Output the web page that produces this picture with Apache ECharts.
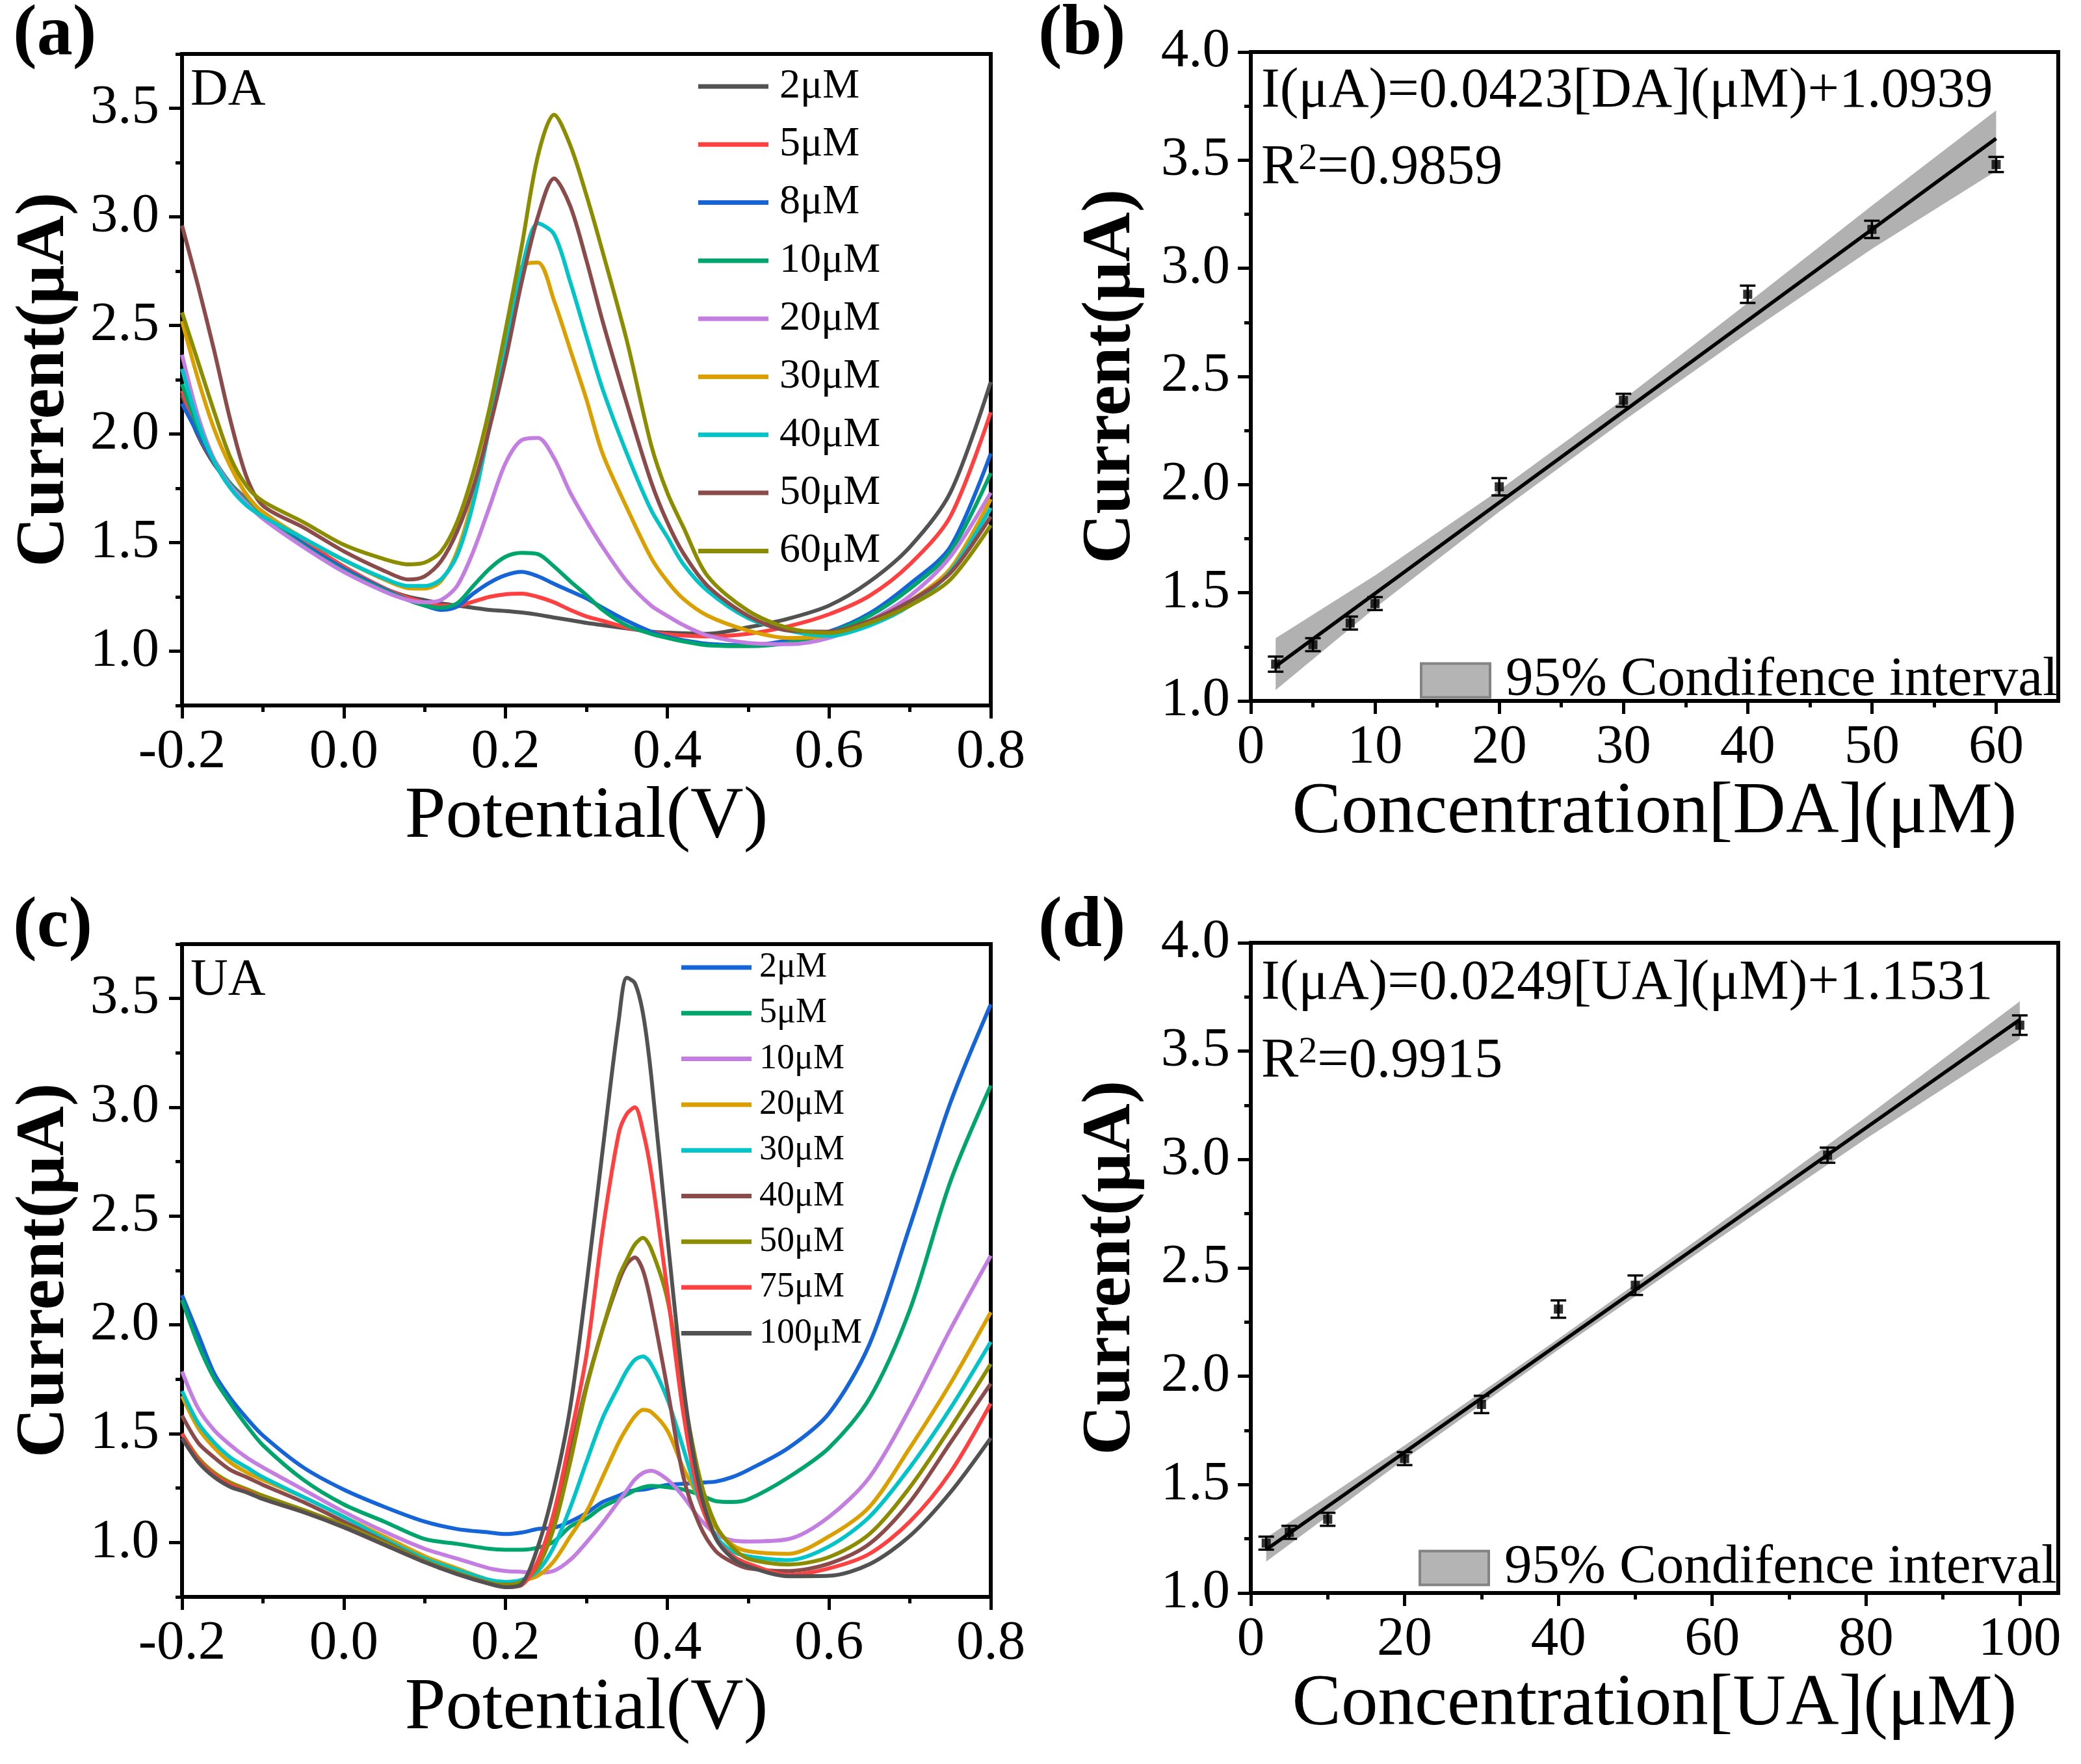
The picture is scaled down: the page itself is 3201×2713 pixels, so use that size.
<!DOCTYPE html>
<html lang="en">
<head>
<meta charset="UTF-8">
<title>DA / UA DPV calibration</title>
<script src="https://cdn.jsdelivr.net/npm/echarts@6.0.0/dist/echarts.min.js"></script>
<style>
  html, body { margin: 0; padding: 0; background: #fff; }
  #main { width: 3201px; height: 2713px; }
</style>
</head>
<body>
<div id="main"></div>
<script>
var FONT = '"Liberation Serif", "Times New Roman", serif';

// ---- (a) DA curves ----
var potA = [-0.2, -0.18, -0.16, -0.14, -0.12, -0.1, -0.05, 0, 0.05, 0.08, 0.1, 0.12, 0.14, 0.16, 0.18, 0.2, 0.22, 0.24, 0.26, 0.28, 0.3, 0.32, 0.35, 0.38, 0.4, 0.42, 0.45, 0.5, 0.55, 0.6, 0.65, 0.7, 0.75, 0.8];
var namesA = ['2μM', '5μM', '8μM', '10μM', '20μM', '30μM', '40μM', '50μM', '60μM'];
var colorsA = ['#525252', '#ff4040', '#1565d8', '#00a56c', '#c47de0', '#dba000', '#00c4c8', '#8c4b4b', '#8c8c00'];
var da2  = [2.18, 1.99, 1.86, 1.77, 1.70, 1.64, 1.51, 1.39, 1.29, 1.25, 1.235, 1.22, 1.21, 1.20, 1.19, 1.185, 1.178, 1.168, 1.155, 1.143, 1.13, 1.12, 1.105, 1.09, 1.085, 1.082, 1.08, 1.11, 1.15, 1.21, 1.32, 1.48, 1.73, 2.24];
var da5  = [2.20, 2.00, 1.87, 1.77, 1.70, 1.64, 1.51, 1.39, 1.29, 1.245, 1.225, 1.21, 1.21, 1.228, 1.25, 1.262, 1.265, 1.25, 1.225, 1.19, 1.16, 1.14, 1.108, 1.088, 1.078, 1.072, 1.068, 1.08, 1.115, 1.17, 1.255, 1.40, 1.62, 2.10];
var da8  = [2.14, 2.00, 1.87, 1.77, 1.69, 1.63, 1.495, 1.38, 1.285, 1.235, 1.21, 1.19, 1.205, 1.265, 1.315, 1.35, 1.365, 1.345, 1.31, 1.277, 1.243, 1.20, 1.14, 1.09, 1.066, 1.05, 1.034, 1.027, 1.05, 1.09, 1.174, 1.31, 1.48, 1.91];
var da10 = [2.23, 2.03, 1.88, 1.77, 1.69, 1.62, 1.485, 1.37, 1.28, 1.235, 1.21, 1.20, 1.22, 1.30, 1.379, 1.435, 1.453, 1.447, 1.39, 1.322, 1.258, 1.19, 1.118, 1.08, 1.061, 1.045, 1.027, 1.023, 1.038, 1.084, 1.163, 1.288, 1.458, 1.82];
var da20 = [2.365, 2.08, 1.88, 1.76, 1.68, 1.61, 1.48, 1.365, 1.275, 1.235, 1.225, 1.235, 1.30, 1.458, 1.662, 1.866, 1.972, 1.982, 1.889, 1.73, 1.60, 1.48, 1.322, 1.21, 1.163, 1.12, 1.072, 1.038, 1.032, 1.061, 1.14, 1.254, 1.435, 1.73];
var da30 = [2.52, 2.25, 2.02, 1.85, 1.72, 1.64, 1.52, 1.42, 1.33, 1.29, 1.288, 1.322, 1.458, 1.707, 2.047, 2.433, 2.77, 2.79, 2.614, 2.388, 2.16, 1.91, 1.66, 1.43, 1.322, 1.24, 1.163, 1.095, 1.061, 1.072, 1.13, 1.23, 1.38, 1.70];
var da40 = [2.30, 2.05, 1.87, 1.75, 1.67, 1.62, 1.52, 1.42, 1.335, 1.30, 1.30, 1.33, 1.44, 1.68, 2.03, 2.42, 2.76, 2.97, 2.92, 2.70, 2.45, 2.207, 1.91, 1.65, 1.526, 1.40, 1.277, 1.152, 1.095, 1.07, 1.118, 1.21, 1.367, 1.66];
var da50 = [2.96, 2.68, 2.38, 2.06, 1.80, 1.67, 1.57, 1.46, 1.37, 1.33, 1.345, 1.413, 1.55, 1.753, 2.025, 2.34, 2.70, 3.00, 3.177, 3.05, 2.80, 2.52, 2.14, 1.78, 1.594, 1.45, 1.30, 1.163, 1.095, 1.09, 1.14, 1.23, 1.36, 1.62];
var da60 = [2.56, 2.33, 2.10, 1.89, 1.76, 1.69, 1.594, 1.49, 1.424, 1.40, 1.408, 1.458, 1.594, 1.82, 2.115, 2.478, 2.864, 3.28, 3.47, 3.33, 3.10, 2.84, 2.43, 1.95, 1.73, 1.57, 1.345, 1.186, 1.106, 1.084, 1.13, 1.21, 1.33, 1.58];
var curvesA = [da2, da5, da8, da10, da20, da30, da40, da50, da60];

// ---- (c) UA curves ----
var potC = [-0.2, -0.18, -0.16, -0.14, -0.12, -0.1, -0.05, 0, 0.05, 0.1, 0.14, 0.18, 0.2, 0.22, 0.24, 0.26, 0.28, 0.3, 0.32, 0.34, 0.35, 0.36, 0.37, 0.38, 0.4, 0.42, 0.44, 0.46, 0.48, 0.5, 0.55, 0.6, 0.65, 0.7, 0.75, 0.8];
var namesC = ['2μM', '5μM', '10μM', '20μM', '30μM', '40μM', '50μM', '75μM', '100μM'];
var colorsC = ['#1565d8', '#00a56c', '#c47de0', '#dba000', '#00c4c8', '#8c4b4b', '#8c8c00', '#ff4040', '#525252'];
var ua2   = [2.137, 1.956, 1.775, 1.662, 1.571, 1.492, 1.345, 1.243, 1.164, 1.096, 1.062, 1.046, 1.039, 1.046, 1.062, 1.068, 1.096, 1.135, 1.186, 1.215, 1.232, 1.24, 1.243, 1.25, 1.265, 1.27, 1.275, 1.28, 1.30, 1.333, 1.435, 1.594, 1.911, 2.454, 3.02, 3.473];
var ua5   = [2.115, 1.911, 1.752, 1.639, 1.537, 1.447, 1.288, 1.175, 1.096, 1.016, 0.994, 0.971, 0.967, 0.967, 0.976, 1.005, 1.073, 1.11, 1.164, 1.20, 1.22, 1.24, 1.254, 1.26, 1.254, 1.243, 1.22, 1.19, 1.186, 1.198, 1.30, 1.435, 1.662, 2.07, 2.658, 3.10];
var ua10  = [1.786, 1.616, 1.515, 1.447, 1.39, 1.345, 1.243, 1.141, 1.05, 0.971, 0.926, 0.881, 0.869, 0.865, 0.86, 0.87, 0.92, 1.00, 1.09, 1.19, 1.24, 1.29, 1.32, 1.33, 1.29, 1.21, 1.11, 1.04, 1.01, 1.005, 1.016, 1.118, 1.30, 1.616, 1.979, 2.318];
var ua20  = [1.673, 1.526, 1.435, 1.367, 1.322, 1.288, 1.209, 1.118, 1.028, 0.937, 0.881, 0.828, 0.819, 0.824, 0.847, 0.915, 1.028, 1.141, 1.30, 1.46, 1.526, 1.58, 1.61, 1.60, 1.515, 1.34, 1.20, 1.07, 0.99, 0.96, 0.948, 1.028, 1.164, 1.435, 1.73, 2.058];
var ua30  = [1.696, 1.549, 1.458, 1.39, 1.345, 1.30, 1.209, 1.118, 1.016, 0.926, 0.874, 0.828, 0.819, 0.828, 0.869, 0.982, 1.16, 1.37, 1.571, 1.72, 1.79, 1.84, 1.855, 1.82, 1.66, 1.43, 1.19, 1.03, 0.96, 0.937, 0.919, 0.982, 1.118, 1.345, 1.616, 1.922];
var ua40  = [1.583, 1.458, 1.39, 1.333, 1.30, 1.265, 1.186, 1.096, 1.005, 0.915, 0.858, 0.813, 0.806, 0.819, 0.892, 1.096, 1.41, 1.72, 1.98, 2.20, 2.28, 2.31, 2.25, 2.10, 1.71, 1.30, 1.08, 0.96, 0.91, 0.881, 0.869, 0.903, 0.994, 1.186, 1.458, 1.73];
var ua50  = [1.50, 1.39, 1.32, 1.275, 1.245, 1.215, 1.15, 1.08, 1.00, 0.915, 0.86, 0.815, 0.805, 0.82, 0.89, 1.07, 1.37, 1.71, 1.98, 2.22, 2.30, 2.37, 2.40, 2.35, 2.12, 1.68, 1.30, 1.08, 0.98, 0.926, 0.899, 0.933, 1.039, 1.254, 1.526, 1.82];
var ua75  = [1.50, 1.38, 1.31, 1.265, 1.235, 1.20, 1.14, 1.07, 0.99, 0.91, 0.855, 0.81, 0.795, 0.805, 0.915, 1.14, 1.48, 1.86, 2.43, 2.88, 2.97, 3.00, 2.89, 2.70, 2.16, 1.59, 1.20, 1.02, 0.94, 0.903, 0.851, 0.881, 0.948, 1.096, 1.322, 1.639];
var ua100 = [1.48, 1.37, 1.30, 1.255, 1.23, 1.20, 1.14, 1.07, 0.99, 0.91, 0.855, 0.81, 0.795, 0.81, 0.98, 1.25, 1.62, 2.18, 2.80, 3.40, 3.595, 3.57, 3.43, 3.15, 2.41, 1.72, 1.25, 1.02, 0.93, 0.89, 0.845, 0.847, 0.90, 1.03, 1.23, 1.48];
var curvesC = [ua2, ua5, ua10, ua20, ua30, ua40, ua50, ua75, ua100];

// ---- (b) DA calibration ----
var concDA = [2, 5, 8, 10, 20, 30, 40, 50, 60];
var currDA = [1.17, 1.26, 1.36, 1.45, 1.99, 2.39, 2.88, 3.18, 3.48];
var errDA  = [0.035, 0.03, 0.03, 0.03, 0.04, 0.03, 0.04, 0.04, 0.035];
var fitXDA = [2, 60];
var fitYDA = [1.16, 3.60];
var bandXDA  = [2, 10, 20, 30, 40, 50, 60];
var bandLoDA = [1.05, 1.43, 1.875, 2.295, 2.70, 3.09, 3.45];
var bandHiDA = [1.29, 1.58, 1.975, 2.395, 2.84, 3.29, 3.73];

// ---- (d) UA calibration ----
var concUA = [2, 5, 10, 20, 30, 40, 50, 75, 100];
var currUA = [1.23, 1.28, 1.34, 1.62, 1.87, 2.31, 2.42, 3.02, 3.62];
var errUA  = [0.03, 0.03, 0.03, 0.03, 0.04, 0.04, 0.045, 0.035, 0.045];
var fitXUA = [2, 100];
var fitYUA = [1.20, 3.645];
var bandXUA  = [2, 20, 40, 60, 80, 100];
var bandLoUA = [1.145, 1.617, 2.123, 2.615, 3.096, 3.555];
var bandHiUA = [1.255, 1.681, 2.173, 2.679, 3.196, 3.73];

// ---- ticks ----
var tickPot = [-0.2, 0, 0.2, 0.4, 0.6, 0.8];
var minorPot = [-0.1, 0.1, 0.3, 0.5, 0.7];
var tickCurCV = [1.0, 1.5, 2.0, 2.5, 3.0, 3.5];
var minorCurCV = [0.75, 1.25, 1.75, 2.25, 2.75, 3.25, 3.75];
var tickCurFit = [1.0, 1.5, 2.0, 2.5, 3.0, 3.5, 4.0];
var minorCurFit = [1.25, 1.75, 2.25, 2.75, 3.25, 3.75];
var tickDA = [0, 10, 20, 30, 40, 50, 60];
var minorDA = [5, 15, 25, 35, 45, 55];
var tickUA = [0, 20, 40, 60, 80, 100];
var minorUA = [10, 30, 50, 70, 90];

var ciName = '95% Condifence interval';

function oneDec(v) { return v.toFixed(1); }
function plain(v) { return String(v); }
function strip(name) { return name.split('|')[1]; }

// main axis + an overlay axis carrying only the short minor ticks
function axisPair(dim, g, min, max, ticks, minor, fmt, name, gap, margin) {
    var pos = dim === 'x' ? 'bottom' : 'left';
    var main = {
        type: 'value', gridIndex: g, min: min, max: max, position: pos,
        axisLine: { show: true, onZero: false, lineStyle: { color: '#000', width: 6 } },
        axisTick: { show: true, inside: false, length: 20, customValues: ticks, lineStyle: { color: '#000', width: 5 } },
        axisLabel: { show: true, customValues: ticks, formatter: fmt, margin: margin, color: '#000', fontFamily: FONT, fontSize: 85, lineHeight: 85 },
        splitLine: { show: false },
        name: name, nameLocation: 'middle', nameGap: gap,
        nameTextStyle: dim === 'x'
            ? { color: '#000', fontFamily: FONT, fontSize: 113, lineHeight: 113 }
            : { color: '#000', fontFamily: FONT, fontSize: 106, lineHeight: 106, fontWeight: 'bold' }
    };
    var over = {
        type: 'value', gridIndex: g, min: min, max: max, position: pos,
        axisLine: { show: false, onZero: false },
        axisTick: { show: true, inside: false, length: 10, customValues: minor, lineStyle: { color: '#000', width: 5 } },
        axisLabel: { show: false },
        splitLine: { show: false }
    };
    return [main, over];
}

var xAxes = [].concat(
    axisPair('x', 0, -0.2, 0.8, tickPot, minorPot, oneDec, 'Potential(V)', 112, 30),
    axisPair('x', 1, 0, 65, tickDA, minorDA, plain, 'Concentration[DA](μM)', 116, 30),
    axisPair('x', 2, -0.2, 0.8, tickPot, minorPot, oneDec, 'Potential(V)', 114, 30),
    axisPair('x', 3, 0, 105, tickUA, minorUA, plain, 'Concentration[UA](μM)', 116, 30)
);
var yAxes = [].concat(
    axisPair('y', 0, 0.75, 3.75, tickCurCV, minorCurCV, oneDec, 'Current(μA)', 157, 35),
    axisPair('y', 1, 1.0, 4.0, tickCurFit, minorCurFit, oneDec, 'Current(μA)', 161, 32),
    axisPair('y', 2, 0.75, 3.75, tickCurCV, minorCurCV, oneDec, 'Current(μA)', 157, 35),
    axisPair('y', 3, 1.0, 4.0, tickCurFit, minorCurFit, oneDec, 'Current(μA)', 161, 32)
);

var grids = [
    { left: 280, top: 83, width: 1244, height: 1002 },
    { left: 1924, top: 80, width: 1242, height: 998 },
    { left: 280, top: 1452, width: 1244, height: 1004 },
    { left: 1924, top: 1450, width: 1242, height: 1000 }
];
grids.forEach(function (g) { g.show = true; g.borderColor = '#000'; g.borderWidth = 6; g.backgroundColor = 'transparent'; });

var series = [];

function addCurves(prefix, axisIdx, pot, curves, names, colors) {
    curves.forEach(function (ys, i) {
        series.push({
            name: prefix + '|' + names[i],
            type: 'line',
            xAxisIndex: axisIdx, yAxisIndex: axisIdx,
            data: pot.map(function (x, k) { return [x, ys[k]]; }),
            showSymbol: false, symbol: 'none',
            smooth: 0.3,
            color: colors[i],
            lineStyle: { width: 6, color: colors[i] }
        });
    });
}
addCurves('DA', 0, potA, curvesA, namesA, colorsA);
addCurves('UA', 4, potC, curvesC, namesC, colorsC);

function addCalibration(prefix, axisIdx, conc, curr, err, fitX, fitY, bx, blo, bhi) {
    series.push({
        name: prefix + '|' + ciName,
        type: 'custom',
        xAxisIndex: axisIdx, yAxisIndex: axisIdx,
        color: '#b4b4b4',
        data: bx.map(function (x, i) { return [x, blo[i], bhi[i]]; }),
        encode: { x: 0, y: [1, 2] },
        renderItem: function (params, api) {
            if (params.dataIndex !== 0) return null;
            var pts = [];
            for (var i = 0; i < bx.length; i++) pts.push(api.coord([bx[i], bhi[i]]));
            for (var j = bx.length - 1; j >= 0; j--) pts.push(api.coord([bx[j], blo[j]]));
            return { type: 'polygon', shape: { points: pts }, style: { fill: 'rgba(140,140,140,0.68)' } };
        }
    });
    series.push({
        name: prefix + '|fit',
        type: 'line',
        xAxisIndex: axisIdx, yAxisIndex: axisIdx,
        data: fitX.map(function (x, i) { return [x, fitY[i]]; }),
        showSymbol: false, symbol: 'none',
        lineStyle: { width: 5.5, color: '#000' }, color: '#000'
    });
    series.push({
        name: prefix + '|err',
        type: 'custom',
        xAxisIndex: axisIdx, yAxisIndex: axisIdx,
        data: conc.map(function (x, i) { return [x, curr[i], err[i]]; }),
        encode: { x: 0, y: 1 },
        renderItem: function (params, api) {
            var x = api.value(0), y = api.value(1), e = api.value(2);
            var top = api.coord([x, y + e]);
            var bot = api.coord([x, y - e]);
            var w = 12;
            var st = { stroke: '#000', lineWidth: 3.5 };
            return {
                type: 'group',
                children: [
                    { type: 'line', shape: { x1: top[0], y1: top[1], x2: bot[0], y2: bot[1] }, style: st },
                    { type: 'line', shape: { x1: top[0] - w, y1: top[1], x2: top[0] + w, y2: top[1] }, style: st },
                    { type: 'line', shape: { x1: bot[0] - w, y1: bot[1], x2: bot[0] + w, y2: bot[1] }, style: st }
                ]
            };
        }
    });
    series.push({
        name: prefix + '|pts',
        type: 'scatter',
        xAxisIndex: axisIdx, yAxisIndex: axisIdx,
        data: conc.map(function (x, i) { return [x, curr[i]]; }),
        symbol: 'rect', symbolSize: 14,
        itemStyle: { color: '#000' }
    });
}
addCalibration('DA', 2, concDA, currDA, errDA, fitXDA, fitYDA, bandXDA, bandLoDA, bandHiDA);
addCalibration('UA', 6, concUA, currUA, errUA, fitXUA, fitYUA, bandXUA, bandLoUA, bandHiUA);

function curveLegend(prefix, names, left, top, gap, size, pad) {
    return {
        orient: 'vertical', left: left, top: top, padding: 0,
        itemGap: gap, itemWidth: 108, itemHeight: 7, icon: 'rect',
        selectedMode: false,
        data: names.map(function (n) { return prefix + '|' + n; }),
        formatter: strip,
        textStyle: { color: '#000', fontFamily: FONT, fontSize: size, lineHeight: size, padding: [0, 0, 0, pad] }
    };
}
function ciLegend(prefix, left, top) {
    return {
        orient: 'vertical', left: left, top: top, padding: 0,
        itemWidth: 106, itemHeight: 52, selectedMode: false,
        data: [{ name: prefix + '|' + ciName, icon: 'rect', itemStyle: { color: '#b4b4b4', borderColor: '#838383', borderWidth: 4 } }],
        formatter: strip,
        textStyle: { color: '#000', fontFamily: FONT, fontSize: 85, lineHeight: 85, padding: [0, 0, 0, 19] }
    };
}

function label(text, x, y, size, bold) {
    return {
        type: 'text', x: x, y: y, silent: true,
        style: { text: text, fill: '#000', fontFamily: FONT, fontSize: size, lineHeight: size, fontWeight: bold ? 'bold' : 'normal', align: 'left', verticalAlign: 'top' }
    };
}
function rSquared(text, x, y) {
    return {
        type: 'text', x: x, y: y, silent: true,
        style: {
            text: text, fill: '#000', fontFamily: FONT, fontSize: 86, lineHeight: 86, align: 'left', verticalAlign: 'top',
            rich: { s: { fontFamily: FONT, fontSize: 58, lineHeight: 30, verticalAlign: 'top', fill: '#000' } }
        }
    };
}

var option = {
    backgroundColor: '#fff',
    animation: false,
    grid: grids,
    xAxis: xAxes,
    yAxis: yAxes,
    legend: [
        curveLegend('DA', namesA, 1074, 101, 25.3, 64, 12),
        curveLegend('UA', namesC, 1048, 1461, 16.3, 54, 7),
        ciLegend('DA', 2184, 1004),
        ciLegend('UA', 2182, 2369)
    ],
    graphic: [
        label('(a)', 20, 0, 110, true),
        label('(b)', 1597, 0, 110, true),
        label('(c)', 20, 1372, 110, true),
        label('(d)', 1597, 1372, 110, true),
        label('DA', 293, 100, 80, false),
        label('UA', 293, 1469, 80, false),
        label('I(μA)=0.0423[DA](μM)+1.0939', 1940, 98, 86, false),
        rSquared('R{s|2}=0.9859', 1940, 216),
        label('I(μA)=0.0249[UA](μM)+1.1531', 1940, 1470, 86, false),
        rSquared('R{s|2}=0.9915', 1940, 1590)
    ],
    series: series
};

var chart = echarts.init(document.getElementById('main'), null, { renderer: 'canvas', width: 3201, height: 2713 });
chart.setOption(option);
</script>
</body>
</html>
